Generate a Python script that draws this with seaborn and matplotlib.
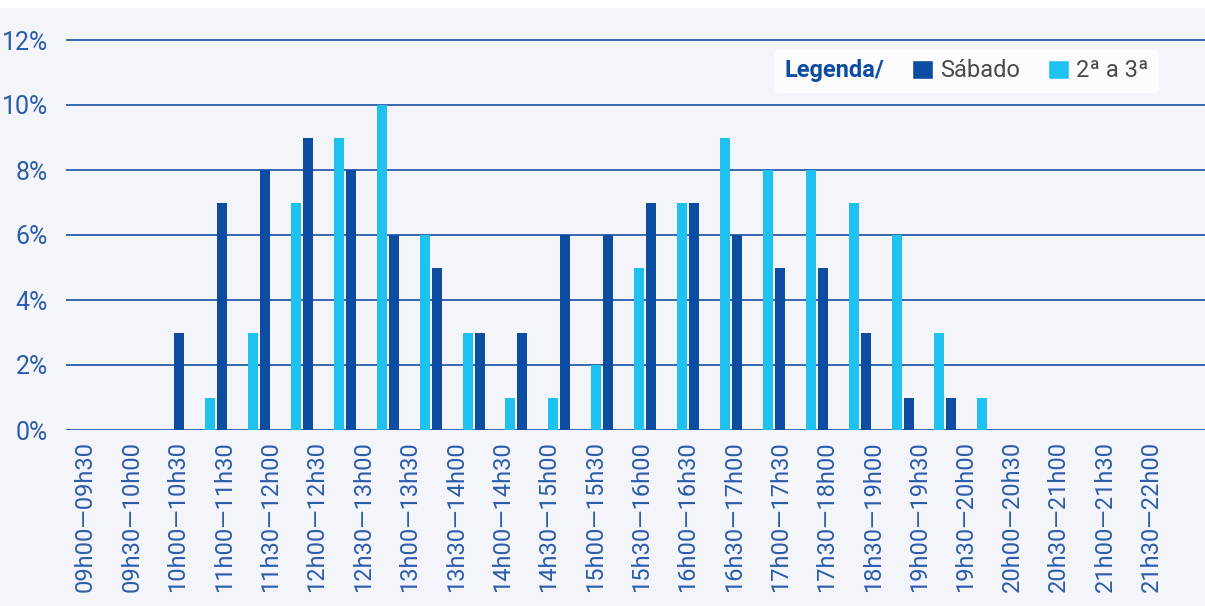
import matplotlib
matplotlib.use("Agg")
import matplotlib.pyplot as plt
import numpy as np
import pandas as pd
import seaborn as sns
from matplotlib.patches import Patch, Rectangle

# one slot per half hour (bars), but the source only prints 24 labels
slots = [f"{h:02d}h{m:02d}" for h in range(9, 22) for m in (0, 30)]
sabado = [0, 0, 3, 7, 8, 9, 8, 6, 5, 3, 3, 6, 6, 7, 7, 6, 5, 5, 3, 1, 1, 0, 0, 0, 0, 0]
semana = [0, 0, 0, 1, 3, 7, 9, 10, 6, 3, 1, 1, 2, 5, 7, 9, 8, 8, 7, 6, 3, 1, 0, 0, 0, 0]
tick_labels = [
    "09h00—09h30", "09h30—10h00", "10h00—10h30", "11h00—11h30", "11h30—12h00",
    "12h00—12h30", "12h30—13h00", "13h00—13h30", "13h30—14h00", "14h00—14h30",
    "14h30—15h00", "15h00—15h30", "15h30—16h00", "16h00—16h30", "16h30—17h00",
    "17h00—17h30", "17h30—18h00", "18h30—19h00", "19h00—19h30", "19h30—20h00",
    "20h00—20h30", "20h30—21h00", "21h00—21h30", "21h30—22h00",
]
yticks = [0, 2, 4, 6, 8, 10, 12]

dark = "#0c4da2"
cyan = "#1fc1f0"
line_col = "#2a5caa"
text_col = "#2b5cab"
bg = "#f4f5fb"

df = pd.DataFrame({
    "slot": slots * 2,
    "valor": sabado + semana,
    "serie": ["Sábado"] * len(slots) + ["2ª a 3ª"] * len(slots),
})

sns.set_theme(style="white")
plt.rcParams["font.family"] = ["Roboto", "DejaVu Sans"]

fig = plt.figure(figsize=(12.05, 6.06), dpi=100, facecolor=bg)
fig.patches.append(Rectangle((0, 1 - 8 / 606), 1, 8 / 606, transform=fig.transFigure,
                             facecolor="white", edgecolor="none", zorder=0))
ax = fig.add_axes([66 / 1205, 1 - 430 / 606, 1 - 66 / 1205, 12.5 * 32.5 / 606])
ax.set_facecolor(bg)

sns.barplot(data=df, x="slot", y="valor", hue="serie", order=slots,
            hue_order=["2ª a 3ª", "Sábado"], palette={"Sábado": dark, "2ª a 3ª": cyan},
            saturation=1, width=0.56, gap=0.17, linewidth=0, legend=False, ax=ax, zorder=3)
for p in ax.patches:
    if p.get_height() == 0:
        p.set_visible(False)

ax.set_xlim(-0.5, 26.05)
ax.set_ylim(0, 12.5)
ax.set_yticks(yticks)
ax.set_yticklabels([f"{v}%" for v in yticks])
ax.set_xticks(np.linspace(-0.05, 24.8, len(tick_labels)))
ax.set_xticklabels(tick_labels, rotation=90, ha="center", va="top")
ax.set_xlabel("")
ax.set_ylabel("")

for y in yticks:
    ax.axhline(y, color=line_col, lw=1.3, zorder=1)
for s in ax.spines.values():
    s.set_visible(False)

ax.tick_params(axis="y", length=0, pad=13, labelsize=18, labelcolor=text_col)
ax.tick_params(axis="x", length=0, pad=8, labelsize=17, labelcolor=text_col)

handles = [Patch(facecolor=dark, label="Sábado"), Patch(facecolor=cyan, label="2ª a 3ª")]
leg = ax.legend(handles=handles, title="Legenda/", ncol=2, loc="upper right",
                frameon=True, fontsize=17, title_fontsize=17, borderaxespad=0,
                handlelength=0.9, handleheight=0.9, handletextpad=0.3,
                columnspacing=0.8, borderpad=0.4, fancybox=True)
leg.get_frame().set_facecolor("white")
leg.get_frame().set_edgecolor("white")
leg.get_title().set_color(dark)
leg.get_title().set_fontweight("bold")
for t in leg.get_texts():
    t.set_color("#4a4a4a")
# put the title on the same row as the entries
vbox = leg.get_children()[0]
title_box, hbox = vbox.get_children()[0], vbox.get_children()[1]
vbox._children = [hbox]
hbox._children.insert(0, title_box)
hbox.sep = 20

x_right = (1158 - 66) / (1205 - 66)
y_top = (430 - 50) / (12.5 * 32.5)
leg.set_bbox_to_anchor((x_right, y_top), transform=ax.transAxes)

fig.savefig("out.png", dpi=100, facecolor=bg)
